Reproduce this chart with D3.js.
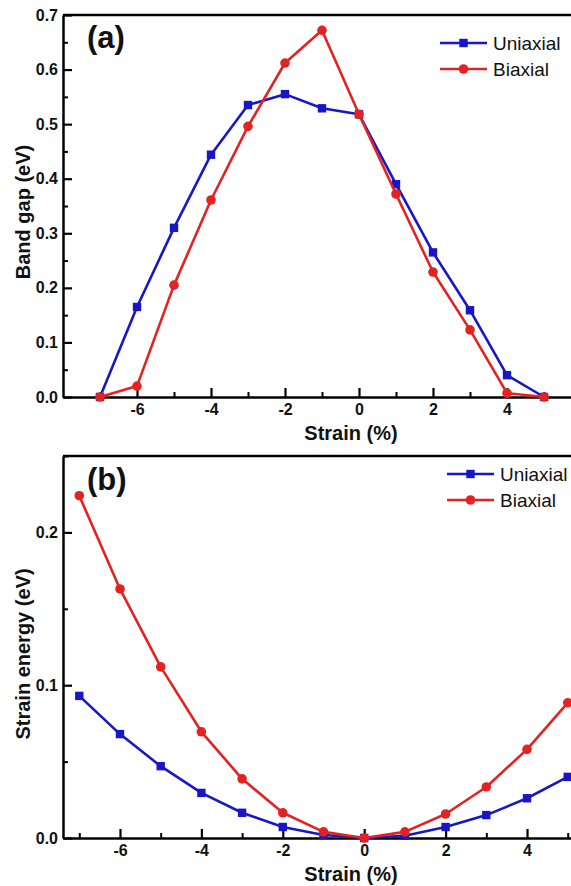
<!DOCTYPE html>
<html>
<head>
<meta charset="utf-8">
<script src="https://cdn.jsdelivr.net/npm/d3@7"></script>
<style>
  html, body { margin: 0; padding: 0; background: #fff; overflow: hidden; }
  svg { display: block; font-family: Arial, "Liberation Sans", sans-serif; }
</style>
</head>
<body>
<svg id="chart" width="571" height="886"></svg>
<script>
// ---- data ----
const strain = [-7, -6, -5, -4, -3, -2, -1, 0, 1, 2, 3, 4, 5];
const gapUniaxial = [0.0, 0.165, 0.31, 0.444, 0.535, 0.555, 0.529, 0.518, 0.39, 0.265, 0.159, 0.04, 0.0];
const gapBiaxial  = [0.0, 0.02, 0.205, 0.361, 0.496, 0.612, 0.672, 0.518, 0.372, 0.229, 0.123, 0.007, 0.0];
const energyUniaxial = [0.093, 0.068, 0.047, 0.0295, 0.0165, 0.0072, 0.002, 0.0, 0.0015, 0.0072, 0.015, 0.026, 0.040];
const energyBiaxial  = [0.224, 0.163, 0.112, 0.0695, 0.0387, 0.0165, 0.004, 0.0, 0.004, 0.0157, 0.0334, 0.058, 0.0885];
const seriesNames = ["Uniaxial", "Biaxial"];
const xMajorTicks = [-6, -4, -2, 0, 2, 4];
const xMinorTicks = [-7, -5, -3, -1, 1, 3, 5];
const gapTicks = [0.0, 0.1, 0.2, 0.3, 0.4, 0.5, 0.6, 0.7];
const gapMinorTicks = [0.05, 0.15, 0.25, 0.35, 0.45, 0.55, 0.65];
const energyTicks = [0.0, 0.1, 0.2];
const energyMinorTicks = [0.05, 0.15, 0.25];

const BLUE = "#1717c8";
const RED = "#e32222";
const svg = d3.select("#chart");

function panel(cfg) {
  const g = svg.append("g");
  const x = d3.scaleLinear().domain(cfg.xDomain).range([cfg.left, cfg.right]);
  const y = d3.scaleLinear().domain(cfg.yDomain).range([cfg.bottom, cfg.top]);

  // frame top & right
  g.append("line").attr("x1", cfg.left).attr("x2", cfg.right).attr("y1", cfg.top).attr("y2", cfg.top)
    .attr("stroke", "#000").attr("stroke-width", 2.5);
  g.append("line").attr("x1", cfg.right).attr("x2", cfg.right).attr("y1", cfg.top).attr("y2", cfg.bottom)
    .attr("stroke", "#000").attr("stroke-width", 2.5);

  // minor ticks
  const xMinor = d3.axisBottom(x).tickValues(xMinorTicks).tickSizeInner(-5).tickSizeOuter(0).tickFormat("");
  g.append("g").attr("transform", `translate(0,${cfg.bottom})`).call(xMinor)
    .call(a => a.select(".domain").remove())
    .selectAll("line").attr("stroke-width", 2);
  const yMinor = d3.axisLeft(y).tickValues(cfg.yMinor).tickSizeInner(-5).tickSizeOuter(0).tickFormat("");
  g.append("g").attr("transform", `translate(${cfg.left},0)`).call(yMinor)
    .call(a => a.select(".domain").remove())
    .selectAll("line").attr("stroke-width", 2);

  // major axes
  const xAxis = d3.axisBottom(x).tickValues(xMajorTicks).tickSizeInner(-9).tickSizeOuter(0)
    .tickPadding(7).tickFormat(d3.format("d"));
  const gx = g.append("g").attr("transform", `translate(0,${cfg.bottom})`).call(xAxis);
  gx.select(".domain").attr("stroke-width", 2.5);
  gx.selectAll("line").attr("stroke-width", 2.2);
  gx.selectAll("text").attr("font-size", 16).attr("font-weight", "bold").attr("fill", "#111")
    .attr("font-family", "Arial, 'Liberation Sans', sans-serif")
    .text(d => d < 0 ? "-" + Math.abs(d) : d);

  const yAxis = d3.axisLeft(y).tickValues(cfg.yTicks).tickSizeInner(-9).tickSizeOuter(0)
    .tickPadding(5).tickFormat(d3.format(".1f"));
  const gy = g.append("g").attr("transform", `translate(${cfg.left},0)`).call(yAxis);
  gy.select(".domain").attr("stroke-width", 2.5);
  gy.selectAll("line").attr("stroke-width", 2.2);
  gy.selectAll("text").attr("font-size", 16).attr("font-weight", "bold").attr("fill", "#111")
    .attr("font-family", "Arial, 'Liberation Sans', sans-serif");

  // axis titles
  g.append("text").attr("x", (cfg.left + 571) / 2 + 34).attr("y", cfg.bottom + 43)
    .attr("text-anchor", "middle").attr("font-size", 20).attr("font-weight", "bold").attr("fill", "#111")
    .text("Strain (%)");
  g.append("text").attr("transform", `translate(${cfg.yTitleX},${cfg.yTitleY}) rotate(-90)`)
    .attr("text-anchor", "middle").attr("dominant-baseline", "central")
    .attr("font-size", 20).attr("font-weight", "bold").attr("fill", "#111")
    .text(cfg.yTitle);

  // panel label
  g.append("text").attr("x", 87).attr("y", cfg.labelY)
    .attr("font-size", 31).attr("font-weight", "bold").attr("fill", "#111").text(cfg.label);

  // series
  const sets = [
    { name: seriesNames[0], vals: cfg.uni, color: BLUE, shape: "square" },
    { name: seriesNames[1], vals: cfg.bi, color: RED, shape: "circle" }
  ];
  const line = d3.line().x(d => x(d[0])).y(d => y(d[1]));
  sets.forEach(s => {
    const pts = strain.map((v, i) => [v, s.vals[i]]);
    g.append("path").datum(pts).attr("d", line).attr("fill", "none")
      .attr("stroke", s.color).attr("stroke-width", 2.6).attr("stroke-linejoin", "round");
    drawMarkers(g, pts.map(p => [x(p[0]), y(p[1])]), s);
  });

  // legend
  sets.forEach((s, i) => {
    const ly = cfg.legendY + i * cfg.legendGap;
    g.append("line").attr("x1", cfg.legendX).attr("x2", cfg.legendX + 47).attr("y1", ly).attr("y2", ly)
      .attr("stroke", s.color).attr("stroke-width", 2.6);
    drawMarkers(g, [[cfg.legendX + 23.5, ly]], s);
    g.append("text").attr("x", cfg.legendX + 53).attr("y", ly).attr("dominant-baseline", "central")
      .attr("font-size", 19).attr("fill", "#111").text(s.name);
  });
}

function drawMarkers(g, pts, s) {
  if (s.shape === "square") {
    g.selectAll(null).data(pts).enter().append("rect")
      .attr("x", d => d[0] - 4.2).attr("y", d => d[1] - 4.2)
      .attr("width", 8.4).attr("height", 8.4).attr("fill", s.color);
  } else {
    g.selectAll(null).data(pts).enter().append("circle")
      .attr("cx", d => d[0]).attr("cy", d => d[1]).attr("r", 4.8).attr("fill", s.color);
  }
}

panel({
  xDomain: [-8, 6], left: 63, right: 581,
  yDomain: [0, 0.7], top: 15, bottom: 397,
  yTicks: gapTicks, yMinor: gapMinorTicks,
  uni: gapUniaxial, bi: gapBiaxial,
  yTitle: "Band gap (eV)", yTitleX: 23, yTitleY: 212,
  label: "(a)", labelY: 48,
  legendX: 440, legendY: 43, legendGap: 26
});

panel({
  xDomain: [-7.4, 5.4], left: 63, right: 584,
  yDomain: [0, 0.25], top: 456, bottom: 838,
  yTicks: energyTicks, yMinor: energyMinorTicks,
  uni: energyUniaxial, bi: energyBiaxial,
  yTitle: "Strain energy (eV)", yTitleX: 23, yTitleY: 654,
  label: "(b)", labelY: 490,
  legendX: 447, legendY: 474, legendGap: 26
});
</script>
</body>
</html>
